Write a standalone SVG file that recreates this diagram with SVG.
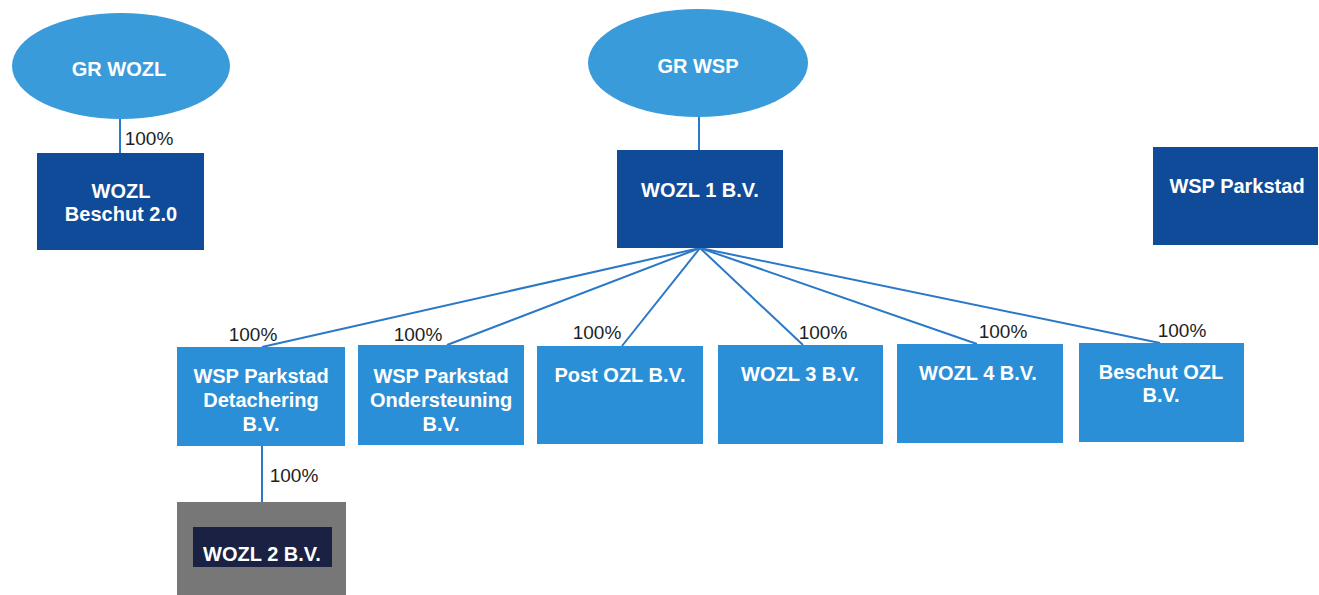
<svg xmlns="http://www.w3.org/2000/svg" width="1319" height="595" viewBox="0 0 1319 595">
<style>
.ell{fill:#3a9bdb}
.dark{fill:#0f4b98}
.child{fill:#2b8fd7}
.t{font-family:"Liberation Sans",Arial,sans-serif;font-weight:bold;font-size:20px;fill:#ffffff;text-anchor:middle}
.p{font-family:"Liberation Sans",Arial,sans-serif;font-size:19px;fill:#1e1e1e;text-anchor:middle}
.ln{stroke:#2a78c8;stroke-width:2;fill:none}
</style>
<rect width="1319" height="595" fill="#ffffff"/>
<g id="connectors">
<line class="ln" x1="120" y1="118" x2="120" y2="153"/>
<line class="ln" x1="699" y1="117" x2="699" y2="150"/>
<line class="ln" x1="700" y1="248" x2="262" y2="347"/>
<line class="ln" x1="700" y1="248" x2="447" y2="345"/>
<line class="ln" x1="700" y1="248" x2="622" y2="346"/>
<line class="ln" x1="700" y1="248" x2="803" y2="345"/>
<line class="ln" x1="700" y1="248" x2="977" y2="344"/>
<line class="ln" x1="700" y1="248" x2="1160" y2="343"/>
<line class="ln" x1="262" y1="446" x2="262" y2="502"/>
</g>
<g id="labels">
<text class="p" x="149" y="145">100%</text>
<text class="p" x="253" y="341">100%</text>
<text class="p" x="418" y="341">100%</text>
<text class="p" x="597" y="339">100%</text>
<text class="p" x="823" y="339">100%</text>
<text class="p" x="1003" y="338">100%</text>
<text class="p" x="1182" y="337">100%</text>
<text class="p" x="294" y="482">100%</text>
</g>
<g id="gr-wozl">
<ellipse class="ell" cx="121" cy="66" rx="109" ry="53"/>
<text class="t" x="119" y="76">GR WOZL</text>
</g>
<g id="wozl-beschut">
<rect class="dark" x="37" y="153" width="167" height="97"/>
<text class="t" x="121" y="198">WOZL</text>
<text class="t" x="121" y="221">Beschut 2.0</text>
</g>
<g id="gr-wsp">
<ellipse class="ell" cx="698" cy="63" rx="110" ry="54"/>
<text class="t" x="698" y="73">GR WSP</text>
</g>
<g id="wozl1">
<rect class="dark" x="617" y="150" width="166" height="98"/>
<text class="t" x="700" y="197">WOZL 1 B.V.</text>
</g>
<g id="wsp-parkstad">
<rect class="dark" x="1153" y="147" width="165" height="98"/>
<text class="t" x="1237" y="193">WSP Parkstad</text>
</g>
<g id="wsp-detachering">
<rect class="child" x="177" y="347" width="168" height="99"/>
<text class="t" x="261" y="383">WSP Parkstad</text>
<text class="t" x="261" y="407">Detachering</text>
<text class="t" x="261" y="431">B.V.</text>
</g>
<g id="wsp-ondersteuning">
<rect class="child" x="358" y="345" width="166" height="100"/>
<text class="t" x="441" y="383">WSP Parkstad</text>
<text class="t" x="441" y="407">Ondersteuning</text>
<text class="t" x="441" y="431">B.V.</text>
</g>
<g id="post-ozl">
<rect class="child" x="537" y="346" width="166" height="98"/>
<text class="t" x="620" y="382">Post OZL B.V.</text>
</g>
<g id="wozl3">
<rect class="child" x="718" y="345" width="165" height="99"/>
<text class="t" x="800" y="381">WOZL 3 B.V.</text>
</g>
<g id="wozl4">
<rect class="child" x="897" y="344" width="166" height="99"/>
<text class="t" x="978" y="380">WOZL 4 B.V.</text>
</g>
<g id="beschut-ozl">
<rect class="child" x="1079" y="343" width="165" height="99"/>
<text class="t" x="1161" y="379">Beschut OZL</text>
<text class="t" x="1161" y="402">B.V.</text>
</g>
<g id="wozl2">
<rect x="177" y="502" width="169" height="100" fill="#777777"/>
<rect x="193" y="527" width="139" height="40" fill="#1b2142"/>
<text class="t" x="262" y="561">WOZL 2 B.V.</text>
</g>
</svg>
